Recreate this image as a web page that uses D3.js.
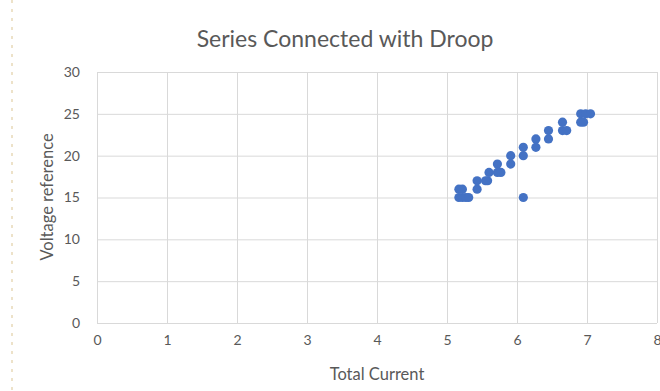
<!DOCTYPE html>
<html>
<head>
<meta charset="utf-8">
<script src="https://cdn.jsdelivr.net/npm/d3@7"></script>
<style>
    body { margin: 0; background: #fff; }
    svg { display: block; font-family: Lato, "Open Sans", sans-serif; }
</style>
</head>
<body>
<svg id="chart" width="660" height="391"></svg>
<script>
    // readings
    const totalCurrent = [5.17, 5.22, 5.17, 5.22, 5.27, 5.31,
        5.43, 5.43, 5.58, 5.6, 5.55, 5.72, 5.72, 5.77,
        5.91, 5.91, 6.09, 6.09, 6.09, 6.27, 6.27, 6.45, 6.45,
        6.65, 6.65, 6.71, 6.91, 6.91, 6.98, 7.05, 6.95];
    const voltageRef = [16, 16, 15, 15, 15, 15,
        16, 17, 17, 18, 17, 19, 18, 18,
        20, 19, 21, 20, 15, 22, 21, 23, 22,
        24, 23, 23, 25, 24, 25, 25, 24];
    const xTicks = [0, 1, 2, 3, 4, 5, 6, 7, 8];
    const yTicks = [0, 5, 10, 15, 20, 25, 30];

    const svg = d3.select("#chart");
    const plotLeft = 97, plotRight = 657, plotTop = 72, plotBottom = 323;

    const x = d3.scaleLinear().domain([0, 8]).range([plotLeft, plotRight]);
    const y = d3.scaleLinear().domain([0, 30]).range([plotBottom, plotTop]);

    // dotted page edge on the left
    svg.append("line")
        .attr("x1", 12).attr("x2", 12).attr("y1", 0).attr("y2", 391)
        .attr("stroke", "#e8d9b8").attr("stroke-width", 1.5)
        .attr("stroke-dasharray", "3,6");

    const grid = svg.append("g");
    grid.selectAll(".hg").data(yTicks).enter().append("line")
        .attr("x1", plotLeft).attr("x2", plotRight)
        .attr("y1", d => y(d) + 0.5).attr("y2", d => y(d) + 0.5)
        .attr("stroke", "#d9d9d9");
    grid.selectAll(".vg").data(xTicks).enter().append("line")
        .attr("y1", plotTop).attr("y2", plotBottom)
        .attr("x1", d => x(d) + 0.5).attr("x2", d => x(d) + 0.5)
        .attr("stroke", "#d9d9d9");

    const xAxis = svg.append("g")
        .attr("transform", `translate(0,${plotBottom})`)
        .call(d3.axisBottom(x).tickValues(xTicks).tickSize(0).tickPadding(12));
    const yAxis = svg.append("g")
        .attr("transform", `translate(${plotLeft},0)`)
        .call(d3.axisLeft(y).tickValues(yTicks).tickSize(0).tickPadding(17));
    [xAxis, yAxis].forEach(a => {
        a.select(".domain").remove();
        a.selectAll("text").attr("fill", "#595959").style("font-size", "14px")
            .style("font-family", "Lato, 'Open Sans', sans-serif");
    });

    svg.append("g").selectAll("circle")
        .data(totalCurrent.map((c, i) => [c, voltageRef[i]]))
        .enter().append("circle")
        .attr("cx", d => x(d[0]))
        .attr("cy", d => y(d[1]))
        .attr("r", 4.6)
        .attr("fill", "#4472c4");

    svg.append("text")
        .attr("x", 345).attr("y", 47)
        .attr("text-anchor", "middle")
        .attr("fill", "#595959")
        .style("font-size", "23px")
        .text("Series Connected with Droop");

    svg.append("text")
        .attr("x", 377).attr("y", 380)
        .attr("text-anchor", "middle")
        .attr("fill", "#595959")
        .style("font-size", "16.5px")
        .text("Total Current");

    svg.append("text")
        .attr("transform", "translate(53,197) rotate(-90)")
        .attr("text-anchor", "middle")
        .attr("fill", "#595959")
        .style("font-size", "16.5px")
        .text("Voltage reference");
</script>
</body>
</html>
